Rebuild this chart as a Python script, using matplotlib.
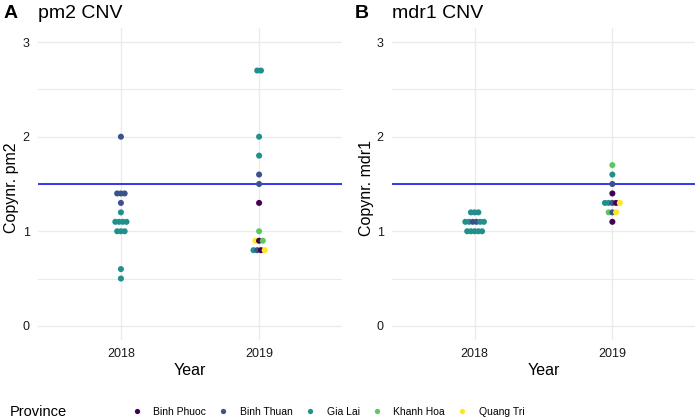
import matplotlib.pyplot as plt
from matplotlib.lines import Line2D

plt.rcParams['font.family'] = ['Liberation Sans', 'DejaVu Sans']

provinces = ["Binh Phuoc", "Binh Thuan", "Gia Lai", "Khanh Hoa", "Quang Tri"]
colors = ["#440154", "#3B528B", "#21908C", "#5DC863", "#FDE725"]
years = ["2018", "2019"]

# pm2 copy numbers
pm2_year = ["2018"] * 15 + ["2019"] * 15
pm2_copy = [2.0, 1.4, 1.4, 1.4, 1.3, 1.2, 1.1, 1.1, 1.1, 1.1, 1.0, 1.0, 1.0, 0.6, 0.5,
            2.7, 2.7, 2.0, 1.8, 1.6, 1.5, 1.3, 1.0, 0.9, 0.9, 0.9, 0.8, 0.8, 0.8, 0.8]
pm2_prov = ["Binh Thuan", "Binh Thuan", "Binh Thuan", "Binh Thuan", "Binh Thuan",
            "Gia Lai", "Gia Lai", "Gia Lai", "Gia Lai", "Gia Lai",
            "Gia Lai", "Gia Lai", "Gia Lai", "Gia Lai", "Gia Lai",
            "Gia Lai", "Gia Lai", "Gia Lai", "Gia Lai", "Binh Thuan", "Binh Thuan",
            "Binh Phuoc", "Khanh Hoa", "Quang Tri", "Binh Phuoc", "Khanh Hoa",
            "Gia Lai", "Binh Thuan", "Binh Phuoc", "Quang Tri"]

# mdr1 copy numbers
mdr1_year = ["2018"] * 14 + ["2019"] * 13
mdr1_copy = [1.2, 1.2, 1.2, 1.1, 1.1, 1.1, 1.1, 1.1, 1.1, 1.0, 1.0, 1.0, 1.0, 1.0,
             1.7, 1.6, 1.5, 1.4, 1.3, 1.3, 1.3, 1.3, 1.3, 1.2, 1.2, 1.2, 1.1]
mdr1_prov = ["Gia Lai", "Gia Lai", "Gia Lai",
             "Gia Lai", "Gia Lai", "Binh Thuan", "Binh Thuan", "Gia Lai", "Gia Lai",
             "Gia Lai", "Gia Lai", "Gia Lai", "Gia Lai", "Gia Lai",
             "Khanh Hoa", "Gia Lai", "Binh Thuan", "Binh Phuoc",
             "Gia Lai", "Gia Lai", "Binh Thuan", "Binh Phuoc", "Quang Tri",
             "Khanh Hoa", "Binh Thuan", "Quang Tri", "Binh Phuoc"]

threshold = 1.5


def dotplot(ax, yr, vals, provs):
    groups = {}
    for y, v, p in zip(yr, vals, provs):
        groups.setdefault((y, v), []).append(p)
    spacing = 0.027
    for (y, v), plist in groups.items():
        x0 = years.index(y)
        n = len(plist)
        for i, p in enumerate(plist):
            xo = x0 + (i - (n - 1) / 2) * spacing
            ax.scatter(xo, v, s=19, color=colors[provinces.index(p)],
                       edgecolors="none", zorder=3)
    ax.axhline(threshold, color="#1515F0", linewidth=1.2, zorder=2)
    ax.set_xlim(-0.6, 1.6)
    ax.set_ylim(-0.15, 3.15)
    ax.set_xticks([0, 1])
    ax.set_xticklabels(years)
    ax.set_yticks([0, 1, 2, 3])
    ax.set_yticks([0.5, 1.5, 2.5], minor=True)
    ax.grid(True, which="major", color="#EBEBEB", linewidth=1.0)
    ax.grid(True, which="minor", axis="y", color="#EBEBEB", linewidth=0.8)
    ax.set_axisbelow(True)
    for s in ax.spines.values():
        s.set_visible(False)
    ax.tick_params(which="both", length=0, labelsize=9, colors="#1A1A1A", pad=6)
    ax.set_xlabel("Year", fontsize=11.5, labelpad=2)


fig = plt.figure(figsize=(6.99, 4.2), dpi=100)
ax1 = fig.add_axes([38 / 699, 80 / 420, 304 / 699, 312 / 420])
ax2 = fig.add_axes([392 / 699, 80 / 420, 303 / 699, 312 / 420])

dotplot(ax1, pm2_year, pm2_copy, pm2_prov)
dotplot(ax2, mdr1_year, mdr1_copy, mdr1_prov)

fig.text(12 / 699, 1 - 188 / 420, "Copynr. pm2", fontsize=11.5, rotation=90,
         ha="center", va="center")
fig.text(366 / 699, 1 - 188 / 420, "Copynr. mdr1", fontsize=11.5, rotation=90,
         ha="center", va="center")

fig.text(4 / 699, 1 - 13 / 420, "A", fontsize=14, fontweight="bold", va="center")
fig.text(38 / 699, 1 - 13 / 420, "pm2 CNV", fontsize=14, va="center")
fig.text(355 / 699, 1 - 13 / 420, "B", fontsize=14, fontweight="bold", va="center")
fig.text(392 / 699, 1 - 13 / 420, "mdr1 CNV", fontsize=14, va="center")

fig.text(10 / 699, 1 - 412 / 420, "Province", fontsize=10.5, va="center")
handles = [Line2D([], [], marker="o", linestyle="", markersize=3.8,
                  markerfacecolor=c, markeredgecolor="none") for c in colors]
fig.legend(handles, provinces, loc="center left", ncol=5, frameon=False,
           bbox_to_anchor=(122 / 699, 1 - 412 / 420), fontsize=7.5,
           handletextpad=1.1, columnspacing=1.15, handlelength=1.0,
           borderpad=0.4)

fig.savefig("out.png", dpi=100)
